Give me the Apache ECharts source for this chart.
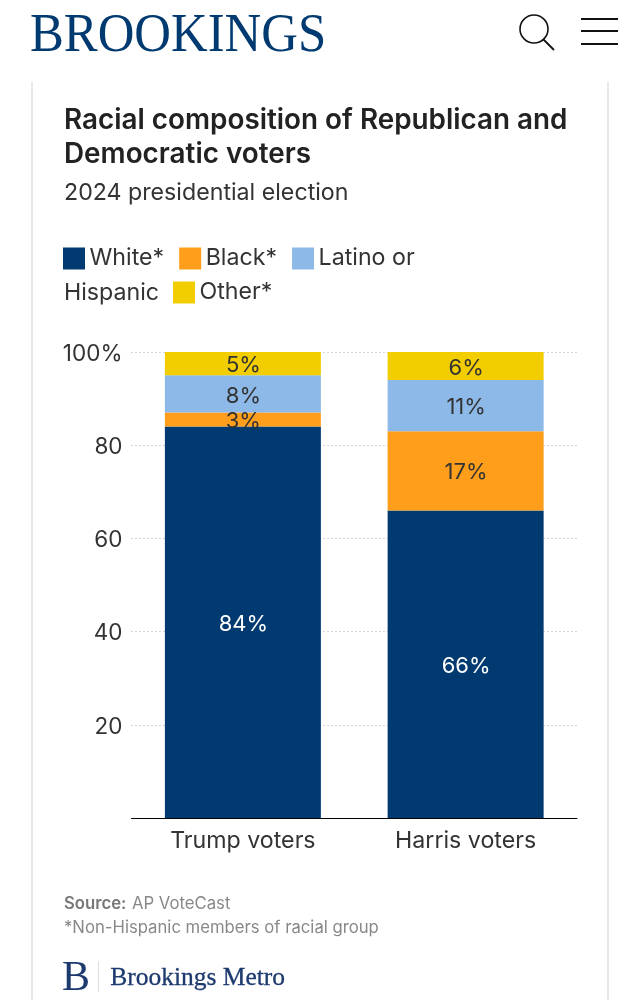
<!DOCTYPE html>
<html><head><meta charset="utf-8">
<style>html,body{margin:0;padding:0;background:#fff}#c{width:639px;height:1000px}</style>
<script src="https://cdn.jsdelivr.net/npm/echarts@6/dist/echarts.min.js"></script>
</head><body><div id="c"></div>
<script>
const categories = ['Trump voters', 'Harris voters'];
const white = [84, 66];
const black = [3, 17];
const latino = [8, 11];
const other = [5, 6];
const yTicks = {100: '100%', 80: '80', 60: '60', 40: '40', 20: '20', 0: ''};
const F = 'Inter';
const navy = '#003a70', orange = '#ff9e1b', blue = '#8db9e8', yellow = '#f2cd00';
const chart = echarts.init(document.getElementById('c'), null, {renderer: 'canvas'});
function s(name, data, color, labelColor) {
  return {name, type: 'bar', stack: 't', data, barWidth: 156,
    itemStyle: {color},
    label: {show: true, position: 'inside', offset: [0.5, 2], formatter: '{c}%', fontFamily: F, fontSize: 22, color: labelColor}};
}
const legendBase = {orient: 'horizontal', itemWidth: 22, itemHeight: 22, itemGap: 15, icon: 'rect', padding: 0,
  textStyle: {fontFamily: F, fontSize: 23.2, color: '#333', padding: [1, 0, 0, -0.5]}};
chart.setOption({
  animation: false,
  backgroundColor: '#fff',
  grid: {left: 131.5, right: 62, top: 352, height: 466},
  xAxis: {type: 'category', data: categories,
    axisLine: {lineStyle: {color: '#000', width: 1}}, axisTick: {show: false},
    axisLabel: {fontFamily: F, fontSize: 23.2, color: '#333', margin: 12}},
  yAxis: {type: 'value', min: 0, max: 100, interval: 20,
    axisLine: {show: false}, axisTick: {show: false},
    axisLabel: {margin: 9, formatter: v => '{a|' + yTicks[v] + '}',
      rich: {a: {fontFamily: F, fontSize: 22.5, color: '#333', padding: [4, 0, 0, 0]}}},
    splitLine: {lineStyle: {color: '#aaa', type: [1, 3], width: 1}}},
  legend: [
    Object.assign({}, legendBase, {left: 63, top: 247, data: ['White*', 'Black*', 'Latino or Hispanic'],
      formatter: n => n === 'Latino or Hispanic' ? 'Latino or' : n}),
    Object.assign({}, legendBase, {left: 173, top: 281, data: ['Other*']})
  ],
  series: [
    s('White*', white, navy, '#fff'),
    s('Black*', black, orange, '#333'),
    s('Latino or Hispanic', latino, blue, '#333'),
    s('Other*', other, yellow, '#333')
  ],
  graphic: [
    {type: 'text', x: 30, y: 10, scaleX: 0.94, scaleY: 1, style: {text: 'BROOKINGS', font: '54px "Liberation Serif"', fill: navy}},
    {type: 'circle', shape: {cx: 534, cy: 29, r: 14}, style: {fill: 'none', stroke: '#111', lineWidth: 1.6}},
    {type: 'line', shape: {x1: 543, y1: 39, x2: 554, y2: 50}, style: {stroke: '#111', lineWidth: 1.8}},
    {type: 'rect', shape: {x: 581, y: 18, width: 37, height: 2}, style: {fill: '#111'}},
    {type: 'rect', shape: {x: 581, y: 30, width: 37, height: 2}, style: {fill: '#111'}},
    {type: 'rect', shape: {x: 581, y: 43, width: 37, height: 2}, style: {fill: '#111'}},
    {type: 'rect', shape: {x: 31, y: 82, width: 2, height: 918}, style: {fill: '#e8e8e8'}},
    {type: 'rect', shape: {x: 607, y: 82, width: 2, height: 918}, style: {fill: '#e8e8e8'}},
    {type: 'text', left: 64, top: 104, style: {text: 'Racial composition of Republican and\nDemocratic voters', font: '600 27.85px Inter', lineHeight: 34, fill: '#222'}},
    {type: 'text', left: 64, top: 182, style: {text: '2024 presidential election', font: '23.2px Inter', fill: '#333'}},
    {type: 'text', left: 64, top: 282, style: {text: 'Hispanic', font: '23.2px Inter', fill: '#333'}},
    {type: 'text', left: 64, top: 895, style: {text: 'Source:', font: '600 16.7px Inter', fill: '#777'}},
    {type: 'text', left: 132, top: 895, style: {text: 'AP VoteCast', font: '16.7px Inter', fill: '#888'}},
    {type: 'text', left: 64, top: 919, style: {text: '*Non-Hispanic members of racial group', font: '16.7px Inter', fill: '#888'}},
    {type: 'text', left: 62, top: 958, style: {text: 'B', font: '42px "Liberation Serif"', fill: '#1d3a6e'}},
    {type: 'rect', shape: {x: 98, y: 961, width: 1, height: 31}, style: {fill: '#ddd'}},
    {type: 'text', left: 110, top: 965, style: {text: 'Brookings Metro', font: '25.5px "Liberation Serif"', fill: '#1d3a6e', stroke: '#1d3a6e', lineWidth: 0.3}}
  ]
});
</script></body></html>
